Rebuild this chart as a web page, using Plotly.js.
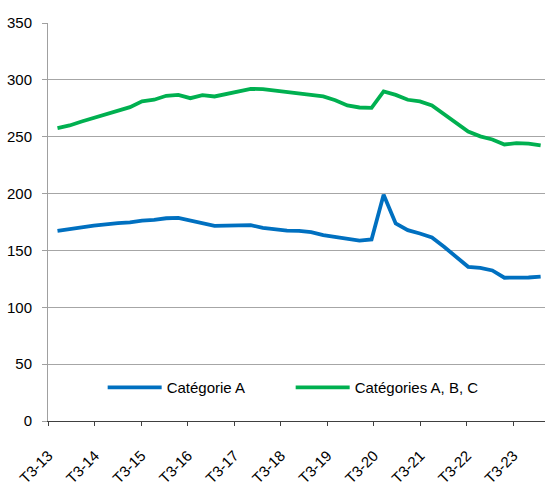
<!DOCTYPE html>
<html><head><meta charset="utf-8">
<script src="https://cdn.plot.ly/plotly-3.0.1.min.js"></script>
<style>html,body{margin:0;padding:0;background:#fff}#chart{width:545px;height:487px}</style>
</head><body><div id="chart"></div>
<script>
const quarters = ["T3-13","T4-13","T1-14","T2-14","T3-14","T4-14","T1-15","T2-15","T3-15","T4-15",
  "T1-16","T2-16","T3-16","T4-16","T1-17","T2-17","T3-17","T4-17","T1-18","T2-18",
  "T3-18","T4-18","T1-19","T2-19","T3-19","T4-19","T1-20","T2-20","T3-20","T4-20",
  "T1-21","T2-21","T3-21","T4-21","T1-22","T2-22","T3-22","T4-22","T1-23","T2-23","T3-23"];
const categorieA = [167.2,168.4,170.2,171.9,173.1,174.0,174.6,176.3,176.8,178.3,
  178.6,176.0,174.2,171.6,171.8,171.8,172.2,169.8,168.4,167.5,
  167.2,166.1,163.4,161.7,159.9,158.6,159.6,199.0,173.7,167.8,
  164.9,161.4,153.2,143.9,135.6,134.6,132.4,126.0,126.0,126.2,127.0];
const categoriesABC = [257.5,259.9,263.4,266.7,269.3,272.5,276.0,281.2,282.5,286.0,
  286.8,283.9,286.5,285.4,287.7,290.0,292.1,291.8,290.6,289.1,
  288.0,287.1,285.4,282.1,277.5,275.7,275.4,289.8,286.8,282.5,
  281.0,277.5,270.2,262.0,254.6,250.3,247.6,243.2,244.4,243.9,242.4];
const tickLabels = ["T3-13","T3-14","T3-15","T3-16","T3-17","T3-18","T3-19","T3-20","T3-21","T3-22","T3-23"];
const seriesNames = ["Catégorie A","Catégories A, B, C"];

const xIdx = quarters.map((q,i)=>i);
const TICK_START = -0.76, TICK_STEP = 3.85;
const tickPos = tickLabels.map((t,k)=>TICK_START + k*TICK_STEP);

const FONT = '"Liberation Sans", Arial, Helvetica, sans-serif';
const traces = [
  {x:xIdx, y:categorieA, text:quarters, name:seriesNames[0], type:'scatter', mode:'lines',
   line:{color:'#0070C0', width:3.8}, hovertemplate:'%{text}: %{y}<extra></extra>'},
  {x:xIdx, y:categoriesABC, text:quarters, name:seriesNames[1], type:'scatter', mode:'lines',
   line:{color:'#00B050', width:3.8}, hovertemplate:'%{text}: %{y}<extra></extra>'}
];
const layout = {
  width:545, height:487,
  margin:{l:48, r:0, t:23, b:66, pad:0},
  paper_bgcolor:'#ffffff', plot_bgcolor:'#ffffff',
  font:{family:FONT, size:15, color:'#000000'},
  showlegend:true,
  legend:{orientation:'h', x:0.11, y:0.0837, xanchor:'left', yanchor:'middle', itemwidth:54,
    font:{family:FONT, size:15, color:'#000'}, bgcolor:'rgba(0,0,0,0)', entrywidth:119, traceorder:'normal'},
  xaxis:{type:'linear', range:[-0.786, 40.36], tickmode:'array', tickvals:tickPos, ticktext:tickLabels,
    tickangle:-45, ticks:'outside', ticklen:4, tickcolor:'#404040', tickwidth:1,
    showline:true, linecolor:'#404040', linewidth:1, showgrid:false, zeroline:false,
    ticklabelstandoff:15, tickfont:{family:FONT, size:15, color:'#000'}},
  yaxis:{range:[0,350], tick0:0, dtick:50, ticks:'outside', ticklen:5, tickcolor:'#a0a0a0', tickwidth:1,
    showline:true, linecolor:'#a0a0a0', linewidth:1, showgrid:true, gridcolor:'#a6a6a6', gridwidth:1,
    zeroline:false, ticklabelstandoff:7, tickfont:{family:FONT, size:15, color:'#000'}}
};
Plotly.newPlot('chart', traces, layout, {displayModeBar:false, staticPlot:true});
</script>
</body></html>
